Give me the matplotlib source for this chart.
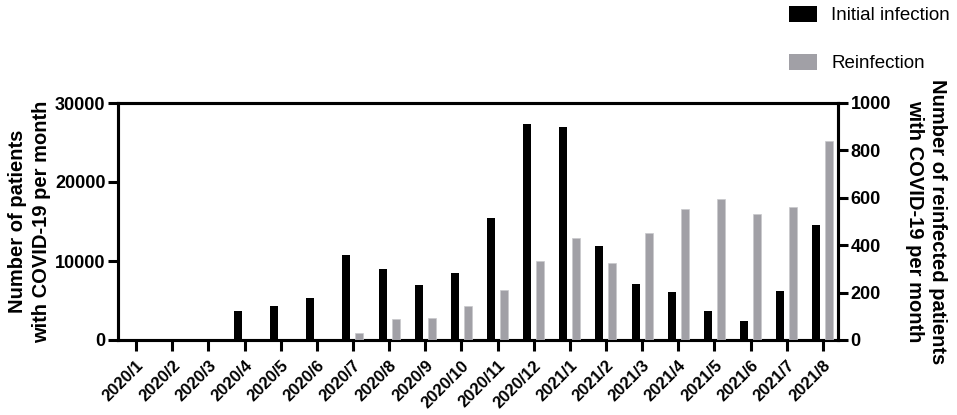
import matplotlib
matplotlib.use("Agg")
import matplotlib.pyplot as plt
import numpy as np
from matplotlib.patches import Patch

plt.rcParams['font.family'] = ['Liberation Sans', 'DejaVu Sans']

months = ["2020/1", "2020/2", "2020/3", "2020/4", "2020/5", "2020/6", "2020/7",
          "2020/8", "2020/9", "2020/10", "2020/11", "2020/12", "2021/1", "2021/2",
          "2021/3", "2021/4", "2021/5", "2021/6", "2021/7", "2021/8"]
initial = [0, 0, 0, 3700, 4300, 5300, 10800, 9000, 6900, 8500, 15500, 27400,
           27000, 11900, 7100, 6100, 3700, 2400, 6200, 14600]
reinfection = [0, 0, 0, 0, 0, 0, 28, 87, 94, 142, 209, 333, 431, 327, 451,
               551, 595, 530, 562, 840]

left_ticks = [0, 10000, 20000, 30000]
right_ticks = [0, 200, 400, 600, 800, 1000]

black = "#000000"
gray = "#a1a0a6"

fig = plt.figure(figsize=(9.57, 4.15), dpi=100)
ax = fig.add_axes([118/957, 1-340/415, (838-118)/957, (340-103)/415])
ax2 = ax.twinx()

x = np.arange(len(months))
w = 0.22
ax.bar(x - 0.18, initial, width=w, color=black, zorder=3)
ax2.bar(x + 0.18, reinfection, width=w, color=gray, edgecolor="#c8c8cc", linewidth=0.5, zorder=3)

ax.set_xlim(-0.5, 19.42)
ax.set_ylim(0, 30000)
ax2.set_ylim(0, 1000)
ax.set_yticks(left_ticks)
ax.set_yticklabels([str(t) for t in left_ticks], fontsize=13, fontweight='bold')
ax2.set_yticks(right_ticks)
ax2.set_yticklabels([str(t) for t in right_ticks], fontsize=13, fontweight='bold')
ax.set_xticks(x)
ax.set_xticklabels(months, rotation=45, ha='right', rotation_mode='anchor',
                   fontsize=12, fontweight='bold')

for a in (ax, ax2):
    for s in a.spines.values():
        s.set_linewidth(2.2)
    a.tick_params(width=2.2, length=7, direction='out', pad=2)
ax.tick_params(axis='x', length=8, pad=5)

ax.set_ylabel("Number of patients\nwith COVID-19 per month", fontsize=14.5,
              fontweight='bold', labelpad=3, linespacing=1.3)
ax2.set_ylabel("Number of reinfected patients\nwith COVID-19 per month", fontsize=14.5,
               fontweight='bold', rotation=-90, va='bottom', labelpad=10, linespacing=1.25)

handles = [Patch(facecolor=black, label="Initial infection"),
           Patch(facecolor=gray, label="Reinfection")]
fig.legend(handles=handles, loc='upper right', bbox_to_anchor=(950/957, 1-6/415),
           frameon=False, fontsize=13.5, handlelength=1.5, handleheight=0.9,
           labelspacing=1.6, handletextpad=0.75, borderpad=0, borderaxespad=0)

fig.savefig("out.png", dpi=100)
